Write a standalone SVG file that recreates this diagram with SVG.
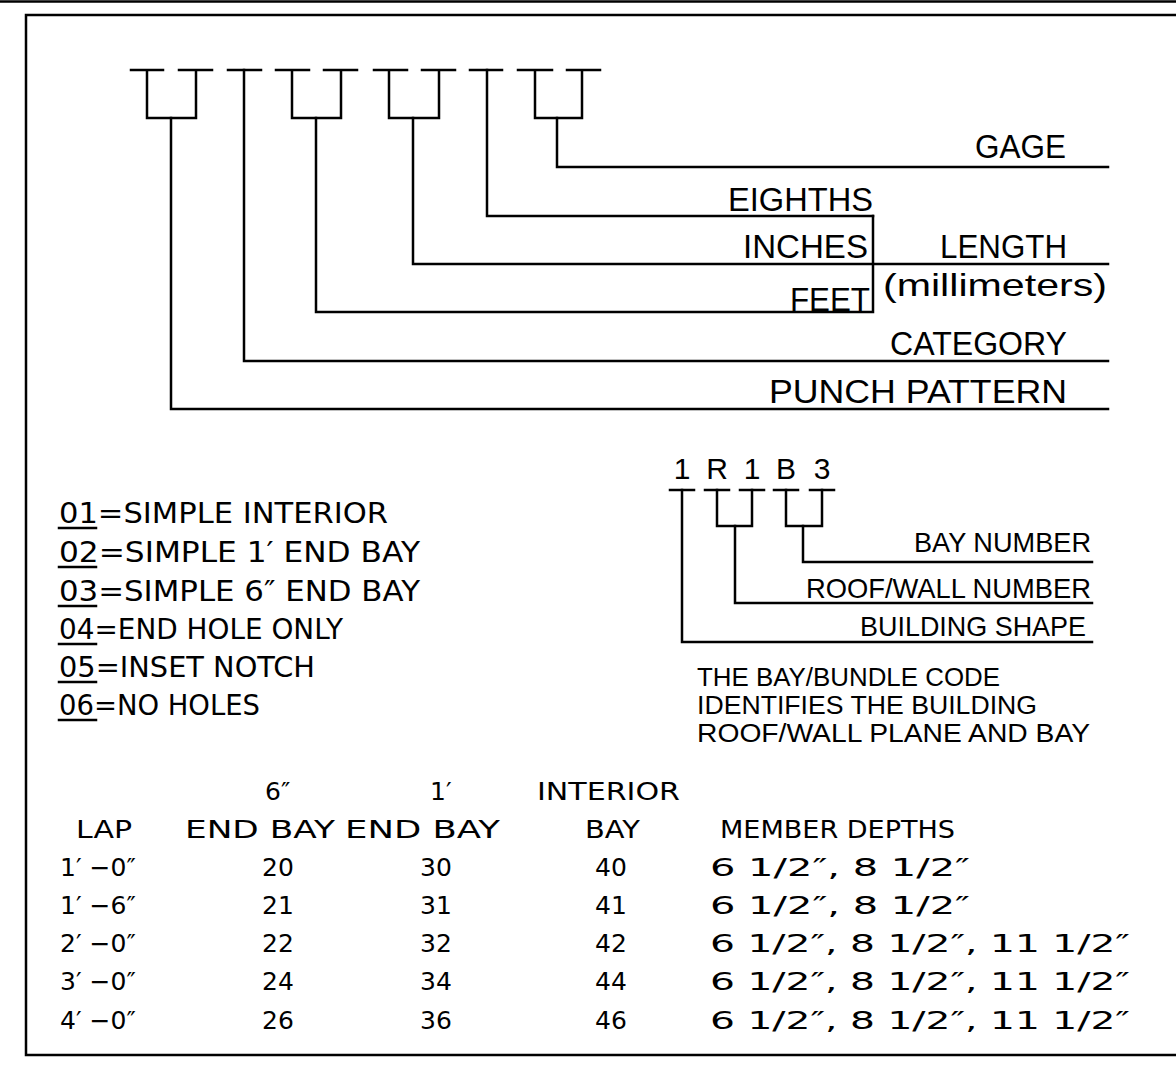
<svg xmlns="http://www.w3.org/2000/svg" width="1176" height="1070" viewBox="0 0 1176 1070">
<style>
.ln{stroke:#000;stroke-width:2.5;fill:none;stroke-linecap:square;stroke-linejoin:miter}
.h{font-family:"Liberation Sans",Arial,sans-serif;fill:#000}
.c{font-family:"DejaVu Sans",sans-serif;fill:#000}
</style>
<rect width="1176" height="1070" fill="#fff"/>
<g id="frame">
<path class="ln" d="M0 1.5 H1176" stroke-width="3"/>
<path class="ln" d="M1178 15 H26 V1055 H1178" stroke-width="3"/>
</g>
<g id="connectors">
<path class="ln" d="M131 70 H163 M147 70 V118 H196 V70 M179 70 H212"/>
<path class="ln" d="M228 70 H261"/>
<path class="ln" d="M276 70 H309 M292 70 V118 H341 V70 M324 70 H357"/>
<path class="ln" d="M374 70 H407 M389 70 V118 H439 V70 M422 70 H455"/>
<path class="ln" d="M470 70 H502"/>
<path class="ln" d="M518 70 H552 M535 70 V118 H582 V70 M567 70 H600"/>
<path class="ln" d="M171 118 V409 H1108"/>
<path class="ln" d="M244 70 V361 H1108"/>
<path class="ln" d="M316 118 V312 H873 V216"/>
<path class="ln" d="M413 118 V264 H1108"/>
<path class="ln" d="M487 70 V216 H873"/>
<path class="ln" d="M557 118 V167 H1108"/>
<path class="ln" d="M670 490 H694 M705 490 H729 M740 490 H764 M774 490 H798 M810 490 H834"/>
<path class="ln" d="M717 490 V526 H752 V490 M786 490 V526 H822 V490"/>
<path class="ln" d="M682 490 V642 H1092"/>
<path class="ln" d="M735 526 V603 H1092"/>
<path class="ln" d="M803 526 V562 H1092"/>
<path class="ln" d="M59 528 H96 M59 567 H96 M59 606 H96 M59 644 H96 M59 682 H96 M59 720 H96" stroke-width="2"/>
</g>
<g id="part-labels" class="h" font-size="34">
<text id="gage" x="975" y="158" textLength="91" lengthAdjust="spacingAndGlyphs">GAGE</text>
<text id="eighths" x="728" y="211" textLength="145" lengthAdjust="spacingAndGlyphs">EIGHTHS</text>
<text id="inches" x="743" y="258" textLength="125" lengthAdjust="spacingAndGlyphs">INCHES</text>
<text id="length" x="940" y="258" textLength="127" lengthAdjust="spacingAndGlyphs">LENGTH</text>
<text id="mm" x="883" y="296" font-size="32" textLength="224" lengthAdjust="spacingAndGlyphs">(millimeters)</text>
<text id="feet" x="790" y="311" textLength="80" lengthAdjust="spacingAndGlyphs">FEET</text>
<text id="category" x="890" y="355" textLength="177" lengthAdjust="spacingAndGlyphs">CATEGORY</text>
<text id="punch" x="769" y="403" textLength="298" lengthAdjust="spacingAndGlyphs">PUNCH  PATTERN</text>
</g>
<g id="bay-code" class="h">
<g font-size="30" text-anchor="middle">
<text x="682" y="479">1</text>
<text x="717" y="479">R</text>
<text x="752" y="479">1</text>
<text x="786" y="479">B</text>
<text x="822" y="479">3</text>
</g>
<g font-size="28">
<text id="bay-number" x="914" y="552" textLength="177" lengthAdjust="spacingAndGlyphs">BAY  NUMBER</text>
<text id="roof-wall" x="806" y="598" textLength="285" lengthAdjust="spacingAndGlyphs">ROOF/WALL  NUMBER</text>
<text id="bldg-shape" x="860" y="636" textLength="226" lengthAdjust="spacingAndGlyphs">BUILDING  SHAPE</text>
</g>
<g font-size="25">
<text x="697" y="686" textLength="303" lengthAdjust="spacingAndGlyphs">THE BAY/BUNDLE CODE</text>
<text x="697" y="714" textLength="340" lengthAdjust="spacingAndGlyphs">IDENTIFIES THE BUILDING</text>
<text x="697" y="742" textLength="393" lengthAdjust="spacingAndGlyphs">ROOF/WALL PLANE AND BAY</text>
</g>
</g>
<g id="punch-list" class="c" font-size="29">
<text x="59" y="523" textLength="329" lengthAdjust="spacingAndGlyphs">01=SIMPLE INTERIOR</text>
<text x="59" y="562" textLength="361" lengthAdjust="spacingAndGlyphs">02=SIMPLE 1′ END BAY</text>
<text x="59" y="601" textLength="361" lengthAdjust="spacingAndGlyphs">03=SIMPLE 6″ END BAY</text>
<text x="59" y="639" textLength="284" lengthAdjust="spacingAndGlyphs">04=END HOLE ONLY</text>
<text x="59" y="677" textLength="256" lengthAdjust="spacingAndGlyphs">05=INSET NOTCH</text>
<text x="59" y="715" textLength="201" lengthAdjust="spacingAndGlyphs">06=NO HOLES</text>
</g>
<g id="lap-table" class="c" font-size="25">
<text x="265" y="800">6″</text>
<text x="430" y="800">1′</text>
<text x="537" y="800" textLength="143" lengthAdjust="spacingAndGlyphs">INTERIOR</text>
<text x="76" y="838" textLength="56" lengthAdjust="spacingAndGlyphs">LAP</text>
<text x="185" y="838" textLength="150" lengthAdjust="spacingAndGlyphs">END BAY</text>
<text x="345" y="838" textLength="155" lengthAdjust="spacingAndGlyphs">END BAY</text>
<text x="585" y="838" textLength="55" lengthAdjust="spacingAndGlyphs">BAY</text>
<text x="720" y="838" textLength="235" lengthAdjust="spacingAndGlyphs">MEMBER DEPTHS</text>
<g>
<text x="60" y="876">1′ −0″</text><text x="262" y="876">20</text><text x="420" y="876">30</text><text x="595" y="876">40</text><text x="710" y="876" textLength="260" lengthAdjust="spacingAndGlyphs">6 1/2″, 8 1/2″</text>
<text x="60" y="914">1′ −6″</text><text x="262" y="914">21</text><text x="420" y="914">31</text><text x="595" y="914">41</text><text x="710" y="914" textLength="260" lengthAdjust="spacingAndGlyphs">6 1/2″, 8 1/2″</text>
<text x="60" y="952">2′ −0″</text><text x="262" y="952">22</text><text x="420" y="952">32</text><text x="595" y="952">42</text><text x="710" y="952" textLength="420" lengthAdjust="spacingAndGlyphs">6 1/2″, 8 1/2″, 11 1/2″</text>
<text x="60" y="990">3′ −0″</text><text x="262" y="990">24</text><text x="420" y="990">34</text><text x="595" y="990">44</text><text x="710" y="990" textLength="420" lengthAdjust="spacingAndGlyphs">6 1/2″, 8 1/2″, 11 1/2″</text>
<text x="60" y="1029">4′ −0″</text><text x="262" y="1029">26</text><text x="420" y="1029">36</text><text x="595" y="1029">46</text><text x="710" y="1029" textLength="420" lengthAdjust="spacingAndGlyphs">6 1/2″, 8 1/2″, 11 1/2″</text>
</g>
</g>
</svg>
